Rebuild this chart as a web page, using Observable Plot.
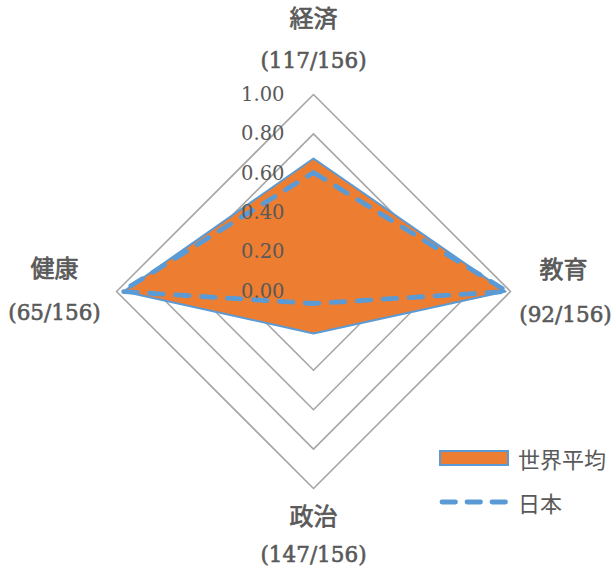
<!DOCTYPE html>
<html>
<head>
<meta charset="utf-8">
<script src="https://cdn.jsdelivr.net/npm/d3@7"></script>
<script src="https://cdn.jsdelivr.net/npm/@observablehq/plot@0.6"></script>
<style>
  body { margin: 0; background: #fff; }
  #chart { position: relative; width: 614px; height: 574px; }
  .legend-item { position: absolute; display: flex; align-items: center; font-family: "Noto Sans CJK JP", sans-serif; font-size: 22px; color: #595959; line-height: 1; }
  .legend-item svg { margin-right: 9px; }
</style>
</head>
<body>
<div id="chart"></div>
<script>
// Gender gap index by sub-index: world average vs. Japan (rank in parentheses)
const categories = ["経済", "教育", "政治", "健康"];
const ranks = ["(117/156)", "(92/156)", "(147/156)", "(65/156)"];
const worldAverage = [0.675, 0.975, 0.213, 0.965];
const japan = [0.604, 0.983, 0.061, 0.973];
const seriesNames = ["世界平均", "日本"];
const gridLevels = [0.2, 0.4, 0.6, 0.8, 1.0];
const tickValues = [0, 0.2, 0.4, 0.6, 0.8, 1.0];
const tickLabels = ["0.00", "0.20", "0.40", "0.60", "0.80", "1.00"];

const orange = "#ED7D31";
const blue = "#5B9BD5";
const grey = "#595959";
const serif = "'DejaVu Serif', 'Noto Sans CJK JP', serif";
const cjk = "'Noto Sans CJK JP', sans-serif";

// Spokes clockwise from the top
const polar = (r, i) => {
  const a = i * Math.PI / 2;
  return {x: r * Math.sin(a), y: r * Math.cos(a)};
};

const rings = gridLevels.flatMap(level => categories.map((c, i) => ({level, ...polar(level, i)})));
const worldPts = worldAverage.map((v, i) => ({category: categories[i], ...polar(v, i)}));
const japanPts = japan.map((v, i) => ({category: categories[i], ...polar(v, i)}));
const anchors = categories.map((c, i) => ({name: c, rank: ranks[i], ...polar(1, i)}));

// Pixel offsets of the two-line spoke labels from each spoke tip
const labelOffset = {
  "経済": {name: [0, -75], rank: [0, -33]},
  "教育": {name: [53, -21], rank: [55, 24]},
  "政治": {name: [0, 29], rank: [0, 67]},
  "健康": {name: [-62, -22], rank: [-62, 22]}
};

const R = 197;
const cx = 313, cy = 291;

// Semi-bold look: regular weight with a thin outline in the text colour
const labelMarks = anchors.flatMap(a => [
  Plot.text([a], {x: "x", y: "y", text: "name", dx: labelOffset[a.name].name[0], dy: labelOffset[a.name].name[1],
    fontFamily: cjk, fontSize: 24, fill: grey, stroke: grey, strokeWidth: 0.7}),
  Plot.text([a], {x: "x", y: "y", text: "rank", dx: labelOffset[a.name].rank[0], dy: labelOffset[a.name].rank[1],
    fontFamily: serif, fontSize: 21.5, fill: grey, stroke: grey, strokeWidth: 0.6})
]);

const chart = Plot.plot({
  width: 614,
  height: 574,
  margin: 0,
  x: {domain: [-cx / R, (614 - cx) / R], range: [0, 614], axis: null},
  y: {domain: [-(574 - cy) / R, cy / R], range: [574, 0], axis: null},
  style: {background: "#fff", fontFamily: serif},
  marks: [
    Plot.line(rings, {x: "x", y: "y", z: "level", curve: "linear-closed", stroke: "#A6A6A6", strokeWidth: 1.6}),
    Plot.line(worldPts, {x: "x", y: "y", curve: "linear-closed", fill: orange, stroke: blue, strokeWidth: 2}),
    Plot.line(japanPts, {x: "x", y: "y", curve: "linear-closed", stroke: blue, strokeWidth: 4.8,
      strokeDasharray: "13.5,12.5", strokeLinecap: "round"}),
    Plot.text(tickValues, {x: 0, y: d => d, text: (d, i) => tickLabels[i], textAnchor: "end", dx: -29,
      fontFamily: serif, fontSize: 19.5, fill: grey}),
    ...labelMarks
  ]
});

const root = document.getElementById("chart");
root.appendChild(chart);

// Legend
const item1 = document.createElement("div");
item1.className = "legend-item";
item1.style.left = "439px";
item1.style.top = "444px";
item1.innerHTML = `<svg width="70" height="28"><rect x="1" y="7" width="68" height="14" fill="${orange}" stroke="${blue}" stroke-width="2"/></svg><span>${seriesNames[0]}</span>`;
root.appendChild(item1);

const item2 = document.createElement("div");
item2.className = "legend-item";
item2.style.left = "439px";
item2.style.top = "488px";
item2.innerHTML = `<svg width="70" height="28"><line x1="3" x2="68" y1="14" y2="14" stroke="${blue}" stroke-width="4.8" stroke-dasharray="13.5,11.5" stroke-linecap="round"/></svg><span>${seriesNames[1]}</span>`;
root.appendChild(item2);
</script>
</body>
</html>
